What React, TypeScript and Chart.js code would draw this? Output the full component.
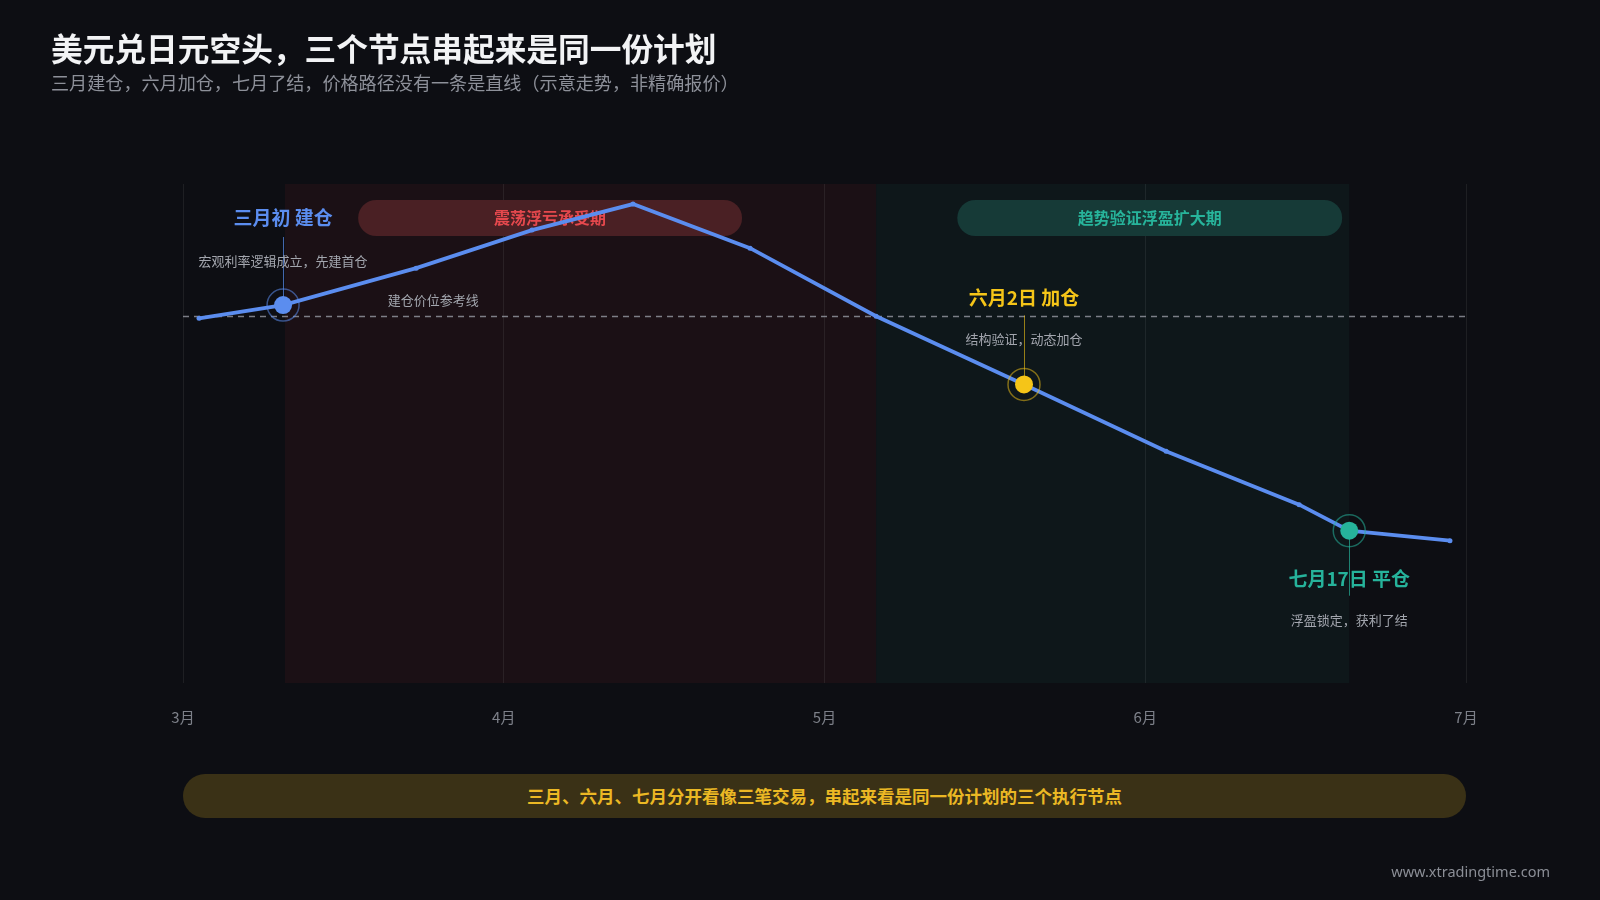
import React, { useEffect, useRef } from 'react';
import { Chart, registerables } from 'chart.js';
Chart.register(...registerables);

// ---- data ----
const monthLabels = ['3月', '4月', '5月', '6月', '7月'];
const pathX = [0.05, 0.312, 0.727, 1.088, 1.403, 1.768, 2.161, 2.622, 3.065, 3.48, 3.636, 3.95];
const pathY = [149.95, 150.28, 151.2, 152.15, 152.8, 151.7, 150.0, 148.3, 146.63, 145.3, 144.65, 144.4];
const entryPrice = 150;
const eventNames = ['三月初 建仓', '六月2日 加仓', '七月17日 平仓'];
const eventNotes = ['宏观利率逻辑成立，先建首仓', '结构验证，动态加仓', '浮盈锁定，获利了结'];
const eventX = [0.312, 2.622, 3.636];
const eventY = [150.28, 148.3, 144.65];
const phaseNames = ['震荡浮亏承受期', '趋势验证浮盈扩大期'];
const phaseStart = [0.318, 2.161];
const phaseEnd = [2.161, 3.636];
const pillStart = [0.546, 2.414];
const pillEnd = [1.743, 3.614];
const refLabel = '建仓价位参考线';
const refLabelX = 0.78;

// ---- styles ----
const BG = '#0d0e13';
const FONT = '"Noto Sans CJK SC", "Noto Sans", sans-serif';
const LINE = '#5b8def';
const eventColors = ['#5b8def', '#f5c518', '#26b39b'];
const eventRings = ['rgba(91,141,239,0.55)', 'rgba(245,197,24,0.5)', 'rgba(38,179,155,0.55)'];
const eventStems = ['rgba(91,141,239,0.7)', 'rgba(245,197,24,0.6)', 'rgba(38,179,155,0.7)'];
const phaseFill = ['rgba(200,50,60,0.075)', 'rgba(30,170,150,0.06)'];
const pillFill = ['#4a2024', '#163a37'];
const pillText = ['#e5484d', '#27b49b'];
// label offsets (px from marker): [label, note, stemFrom, stemTo]
const labelOffsets = [
  [-87, -44, -68, 0],
  [-87, -45, -69, 0],
  [48, 89, 0, 65],
];

function roundRect(ctx: CanvasRenderingContext2D, x: number, y: number, w: number, h: number, r: number) {
  ctx.beginPath();
  ctx.moveTo(x + r, y);
  ctx.lineTo(x + w - r, y);
  ctx.arc(x + w - r, y + r, r, -Math.PI / 2, Math.PI / 2);
  ctx.lineTo(x + r, y + h);
  ctx.arc(x + r, y + r, r, Math.PI / 2, (3 * Math.PI) / 2);
  ctx.closePath();
}

export default function App() {
  const ref = useRef<HTMLCanvasElement>(null);

  useEffect(() => {
    const canvas = ref.current!;
    const decor = {
      id: 'decor',
      beforeDraw(chart: any) {
        const { ctx, chartArea, scales } = chart;
        const x = scales.x;
        ctx.save();
        for (let i = 0; i < phaseNames.length; i++) {
          const x0 = x.getPixelForValue(phaseStart[i]);
          const x1 = x.getPixelForValue(phaseEnd[i]);
          ctx.fillStyle = phaseFill[i];
          ctx.fillRect(x0, chartArea.top, x1 - x0, chartArea.bottom - chartArea.top);
        }
        ctx.restore();
      },
      beforeDatasetsDraw(chart: any) {
        const { ctx, chartArea, scales } = chart;
        const x = scales.x, y = scales.y;
        ctx.save();
        // pills
        for (let i = 0; i < phaseNames.length; i++) {
          const x0 = x.getPixelForValue(pillStart[i]);
          const x1 = x.getPixelForValue(pillEnd[i]);
          const top = chartArea.top + 16;
          roundRect(ctx, x0, top, x1 - x0, 36, 18);
          ctx.fillStyle = pillFill[i];
          ctx.fill();
          ctx.fillStyle = pillText[i];
          ctx.font = `bold 16px ${FONT}`;
          ctx.textAlign = 'center';
          ctx.textBaseline = 'middle';
          ctx.fillText(phaseNames[i], (x0 + x1) / 2, top + 18);
        }
        // reference line
        const ry = Math.round(y.getPixelForValue(entryPrice)) + 0.5;
        ctx.strokeStyle = 'rgba(160,163,172,0.75)';
        ctx.lineWidth = 1.3;
        ctx.setLineDash([6, 5]);
        ctx.beginPath();
        ctx.moveTo(chartArea.left, ry);
        ctx.lineTo(chartArea.right, ry);
        ctx.stroke();
        ctx.setLineDash([]);
        ctx.fillStyle = '#a3a6ae';
        ctx.font = `13px ${FONT}`;
        ctx.textAlign = 'center';
        ctx.textBaseline = 'middle';
        ctx.fillText(refLabel, x.getPixelForValue(refLabelX), ry - 16);
        // stems
        for (let i = 0; i < eventNames.length; i++) {
          const px = Math.round(x.getPixelForValue(eventX[i])) + 0.5;
          const py = y.getPixelForValue(eventY[i]);
          ctx.strokeStyle = eventStems[i];
          ctx.lineWidth = 1;
          ctx.beginPath();
          ctx.moveTo(px, py + labelOffsets[i][2]);
          ctx.lineTo(px, py + labelOffsets[i][3]);
          ctx.stroke();
        }
        ctx.restore();
      },
      afterDatasetsDraw(chart: any) {
        const { ctx, scales } = chart;
        const x = scales.x, y = scales.y;
        ctx.save();
        ctx.textAlign = 'center';
        ctx.textBaseline = 'middle';
        for (let i = 0; i < eventNames.length; i++) {
          const px = x.getPixelForValue(eventX[i]);
          const py = y.getPixelForValue(eventY[i]);
          ctx.fillStyle = eventColors[i];
          ctx.font = `bold 19px ${FONT}`;
          ctx.fillText(eventNames[i], px, py + labelOffsets[i][0]);
          ctx.fillStyle = '#a3a6ae';
          ctx.font = `13px ${FONT}`;
          ctx.fillText(eventNotes[i], px, py + labelOffsets[i][1]);
        }
        ctx.restore();
      },
    };

    const events = eventX.map((v, i) => ({ x: v, y: eventY[i] }));
    const chart = new Chart(canvas, {
      type: 'line',
      data: {
        datasets: [
          {
            type: 'scatter',
            data: events,
            pointRadius: 9,
            pointHoverRadius: 9,
            pointBackgroundColor: eventColors,
            pointBorderWidth: 0,
          } as any,
          {
            type: 'scatter',
            data: events,
            pointRadius: 16,
            pointHoverRadius: 16,
            pointBackgroundColor: 'rgba(0,0,0,0)',
            pointBorderColor: eventRings,
            pointBorderWidth: 1.5,
          } as any,
          {
            type: 'line',
            data: pathX.map((v, i) => ({ x: v, y: pathY[i] })),
            borderColor: LINE,
            borderWidth: 3.8,
            pointRadius: 2.5,
            pointBackgroundColor: LINE,
            pointBorderWidth: 0,
            tension: 0,
            fill: false,
          },
        ],
      },
      options: {
        animation: false,
        responsive: false,
        devicePixelRatio: 1,
        events: [],
        layout: { padding: { left: 183, right: 134, top: 184, bottom: 149 } },
        plugins: { legend: { display: false }, tooltip: { enabled: false } },
        scales: {
          x: {
            type: 'linear',
            min: 0,
            max: 4,
            border: { display: false },
            grid: { color: 'rgba(255,255,255,0.07)', drawTicks: false, lineWidth: 1 },
            ticks: {
              stepSize: 1,
              padding: 25,
              color: '#7d8089',
              font: { size: 15, family: FONT },
              callback: (v: any) => monthLabels[Number(v)] ?? '',
            },
          },
          y: {
            display: false,
            min: 140.85,
            max: 153.3,
          },
        },
      },
      plugins: [decor],
    });
    return () => chart.destroy();
  }, []);

  return (
    <div
      style={{
        position: 'absolute',
        left: 0,
        top: 0,
        width: 1600,
        height: 900,
        background: BG,
        overflow: 'hidden',
        fontFamily: FONT,
      }}
    >
      <canvas ref={ref} width={1600} height={900} style={{ position: 'absolute', left: 0, top: 0, width: 1600, height: 900 }} />
      <div style={{ position: 'absolute', left: 51, top: 28, fontSize: 31.7, lineHeight: '38px', fontWeight: 700, color: '#f2f3f5', whiteSpace: 'nowrap' }}>
        美元兑日元空头，三个节点串起来是同一份计划
      </div>
      <div style={{ position: 'absolute', left: 51, top: 70, fontSize: 18.1, lineHeight: '24px', color: '#8d9099', whiteSpace: 'nowrap' }}>
        三月建仓，六月加仓，七月了结，价格路径没有一条是直线（示意走势，非精确报价）
      </div>
      <div
        style={{
          position: 'absolute',
          left: 183,
          top: 774,
          width: 1283,
          height: 44,
          borderRadius: 22,
          background: '#3a3116',
          color: '#ebb824',
          fontSize: 17.5,
          fontWeight: 700,
          lineHeight: '44px',
          textAlign: 'center',
          whiteSpace: 'nowrap',
        }}
      >
        三月、六月、七月分开看像三笔交易，串起来看是同一份计划的三个执行节点
      </div>
      <div style={{ position: 'absolute', right: 50, top: 862, fontSize: 14.5, lineHeight: '18px', color: '#8b8e96', fontFamily: '"Noto Sans", sans-serif' }}>
        www.xtradingtime.com
      </div>
    </div>
  );
}
